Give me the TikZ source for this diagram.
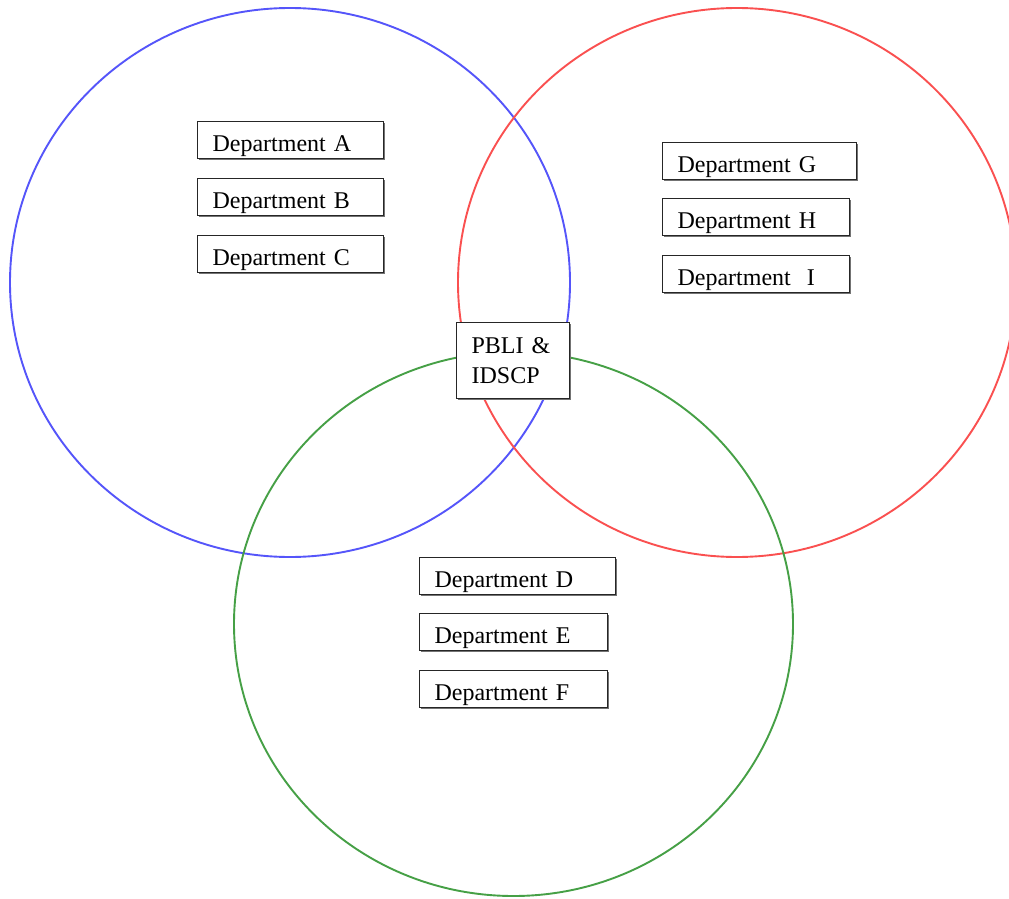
\documentclass[tikz,border=0pt]{standalone}
\usepackage{fontspec}
\setmainfont{Liberation Serif}
\usetikzlibrary{shadows}
\tikzset{
  ring/.style={line width=1.9pt},
  dept/.style={draw=black!85, line width=1.2pt, fill=white, anchor=north west,
    inner xsep=15pt, inner ysep=0pt, text height=30pt, text depth=7pt, align=left,
    font=\fontsize{24}{30}\selectfont,
    drop shadow={shadow xshift=1.6pt, shadow yshift=-1.6pt, fill=black!55, opacity=1}},
}
\definecolor{ringblue}{RGB}{85,85,250}
\definecolor{ringred}{RGB}{250,80,80}
\definecolor{ringgreen}{RGB}{70,160,70}
\begin{document}
\begin{tikzpicture}[x=1pt,y=-1pt]
\useasboundingbox (0,0) rectangle (1009,899);
\fill[white] (0,0) rectangle (1009,899);
% circles
\draw[ring, ringblue] (290,282.5) ellipse [x radius=280, y radius=274.5];
\draw[ring, ringred] (737,282.5) ellipse [x radius=279, y radius=274.5];
\draw[ring, ringgreen] (513.5,624) ellipse [x radius=279.5, y radius=272];
% left group
\node[dept, text width=156pt] (A) at (197,121) {Department A};
\node[dept, text width=156pt] (B) at (197,178) {Department B};
\node[dept, text width=156pt] (C) at (197,235) {Department C};
% right group
\node[dept, text width=164pt] (G) at (662,142) {Department G};
\node[dept, text width=157pt] (H) at (662,198) {Department H};
\node[dept, text width=157pt] (I) at (662,255) {Department\ \ I};
% bottom group
\node[dept, text width=166pt] (D) at (419,557) {Department D};
\node[dept, text width=158pt] (E) at (419,613) {Department E};
\node[dept, text width=158pt] (F) at (419,670) {Department F};
% centre
\node[dept, text width=83pt, text height=, text depth=, minimum height=76pt] (P) at (456,322) {PBLI \&\\IDSCP};
\end{tikzpicture}
\end{document}
